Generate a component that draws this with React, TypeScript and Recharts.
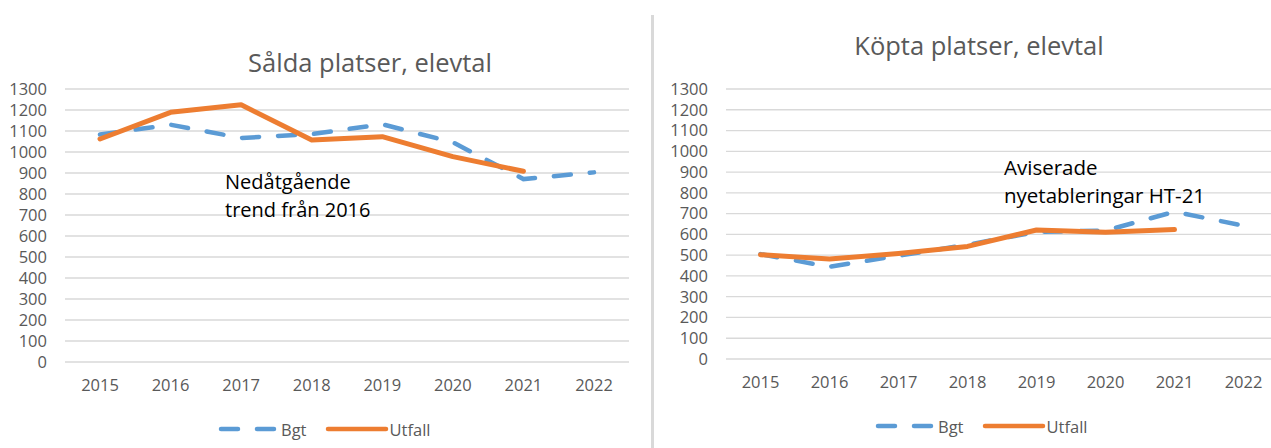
import React from 'react';
import { LineChart, Line, XAxis, YAxis, CartesianGrid } from 'recharts';

const years = ['2015', '2016', '2017', '2018', '2019', '2020', '2021', '2022'];
const soldBgt = [1083, 1130, 1067, 1085, 1132, 1046, 871, 903];
const soldUtfall = [1062, 1189, 1225, 1057, 1073, 978, 908, null];
const boughtBgt = [505, 444, 497, 550, 612, 618, 709, 642];
const boughtUtfall = [502, 481, 508, 542, 621, 610, 623, null];
const yTicks = [0, 100, 200, 300, 400, 500, 600, 700, 800, 900, 1000, 1100, 1200, 1300];

const BLUE = '#5B9BD5';
const ORANGE = '#ED7D31';
const GRAY = '#595959';
const FONT = '"Open Sans", "Noto Sans", sans-serif';
const TICK_SIZE = 16.5;

const soldData = years.map((y, i) => ({ year: y, Bgt: soldBgt[i], Utfall: soldUtfall[i] }));
const boughtData = years.map((y, i) => ({ year: y, Bgt: boughtBgt[i], Utfall: boughtUtfall[i] }));

const LegendBox = ({ left, top }: { left: number; top: number }) => (
  <div style={{ position: 'absolute', left, top, display: 'flex', alignItems: 'center', fontFamily: FONT, fontSize: TICK_SIZE, color: GRAY, whiteSpace: 'nowrap', height: 20 }}>
    <svg width={62} height={10} style={{ display: 'block' }}>
      <line x1={3} y1={5} x2={59} y2={5} stroke={BLUE} strokeWidth={4.5} strokeLinecap="round" strokeDasharray="17 19" />
    </svg>
    <span style={{ marginLeft: 1 }}>Bgt</span>
    <svg width={64} height={10} style={{ display: 'block', marginLeft: 18 }}>
      <line x1={3} y1={5} x2={61} y2={5} stroke={ORANGE} strokeWidth={4.5} strokeLinecap="round" />
    </svg>
    <span style={{ marginLeft: 1 }}>Utfall</span>
  </div>
);

type ChartProps = {
  data: any[];
  width: number;
  yAxisWidth: number;
  marginTop: number;
  marginBottom: number;
  marginRight: number;
  pad: number;
};

const Panel = ({ data, width, yAxisWidth, marginTop, marginBottom, marginRight, pad }: ChartProps) => (
  <LineChart
    width={width}
    height={448}
    data={data}
    margin={{ top: marginTop, right: marginRight, bottom: 0, left: 0 }}
    style={{ fontFamily: FONT }}
  >
    <CartesianGrid vertical={false} stroke="#d9d9d9" strokeWidth={1.3} />
    <XAxis
      dataKey="year"
      axisLine={false}
      tickLine={false}
      padding={{ left: pad, right: pad }}
      tick={{ fill: GRAY, fontSize: TICK_SIZE }}
      tickMargin={11}
      interval={0}
      height={marginBottom}
    />
    <YAxis
      domain={[0, 1300]}
      ticks={yTicks}
      axisLine={false}
      tickLine={false}
      width={yAxisWidth}
      tick={{ fill: GRAY, fontSize: TICK_SIZE }}
      tickMargin={12}
      interval={0}
    />
    <Line
      type="linear"
      dataKey="Bgt"
      stroke={BLUE}
      strokeWidth={4.5}
      strokeDasharray="17 19"
      strokeLinecap="round"
      dot={false}
      activeDot={false}
      isAnimationActive={false}
    />
    <Line
      type="linear"
      dataKey="Utfall"
      stroke={ORANGE}
      strokeWidth={5}
      strokeLinecap="round"
      strokeLinejoin="round"
      dot={false}
      activeDot={false}
      connectNulls={false}
      isAnimationActive={false}
    />
  </LineChart>
);

const textStyle: React.CSSProperties = {
  position: 'absolute',
  fontFamily: FONT,
  whiteSpace: 'nowrap',
};

export default function App() {
  return (
    <div style={{ position: 'absolute', left: 0, top: 0, width: 1271, height: 448, overflow: 'hidden', background: '#fff' }}>
      <div style={{ ...textStyle, left: 0, width: 740, top: 44, textAlign: 'center', fontSize: 25.5, color: GRAY, lineHeight: '36px' }}>
        Sålda platser, elevtal
      </div>
      <div style={{ ...textStyle, left: 660, width: 638, top: 27, textAlign: 'center', fontSize: 25.5, color: GRAY, lineHeight: '36px' }}>
        Köpta platser, elevtal
      </div>
      <div style={{ position: 'absolute', left: 0, top: 0 }}>
        <Panel data={soldData} width={645} yAxisWidth={65} marginTop={89} marginBottom={86} marginRight={16} pad={35} />
      </div>
      <div style={{ position: 'absolute', left: 651, top: 15, width: 3, height: 433, background: '#d9d9d9' }} />
      <div style={{ position: 'absolute', left: 660, top: 0 }}>
        <Panel data={boughtData} width={620} yAxisWidth={66} marginTop={89} marginBottom={89} marginRight={2} pad={34.5} />
      </div>
      <LegendBox left={218} top={419} />
      <LegendBox left={875} top={416} />
      <div style={{ ...textStyle, left: 225, top: 168, fontSize: 20, color: '#000', lineHeight: '28px' }}>
        Nedåtgående<br />trend från 2016
      </div>
      <div style={{ ...textStyle, left: 1004, top: 153, fontSize: 20.5, color: '#000', lineHeight: '28px' }}>
        Aviserade<br />nyetableringar HT-21
      </div>
    </div>
  );
}
